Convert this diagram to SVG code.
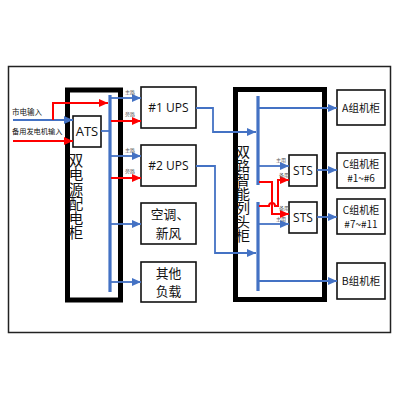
<svg xmlns="http://www.w3.org/2000/svg" width="400" height="400" viewBox="0 0 400 400">
<style>
.box{fill:#fff;stroke:#111;stroke-width:1.6}
.panel{fill:#fff;stroke:#000;stroke-width:5}
.t{font-family:"Open Sans","Noto Sans CJK SC",sans-serif;fill:#111;text-anchor:middle}
.zh{font-family:"Noto Sans CJK SC",sans-serif;fill:#111;text-anchor:middle}
.zl{font-family:"Noto Sans CJK SC",sans-serif;fill:#111;text-anchor:start}
.vt{font-family:"Noto Sans CJK SC",sans-serif;fill:#111;text-anchor:start;writing-mode:vertical-rl;text-orientation:upright}
.sm{font-family:"Noto Sans CJK SC",sans-serif;fill:#555;font-size:5px;text-anchor:middle}
.b{fill:none;stroke:#4472C4;stroke-width:1.8}
.r{fill:none;stroke:#FF0000;stroke-width:2}
.bus{stroke:#4472C4;stroke-width:3.2}
</style>
<defs>
<marker id="ab" markerUnits="userSpaceOnUse" markerWidth="9" markerHeight="8" refX="9" refY="4" orient="auto"><path d="M0,0 L9,4 L0,8 z" fill="#4472C4"/></marker>
<marker id="ar" markerUnits="userSpaceOnUse" markerWidth="9" markerHeight="8" refX="9" refY="4" orient="auto"><path d="M0,0 L9,4 L0,8 z" fill="#FF0000"/></marker>
</defs>
<rect x="8.5" y="66.5" width="382" height="266" fill="#fff" stroke="#222" stroke-width="1.5"/>
<g id="panel1">
<rect class="panel" x="67.5" y="90" width="53" height="210"/>
<text class="vt" x="76" y="153" font-size="14.5">双电源配电柜</text>
</g>
<g id="panel2">
<rect class="panel" x="235.5" y="89.5" width="89" height="210"/>
<text class="vt" x="243" y="145" font-size="14">双路智能列头柜</text>
</g>
<g id="inputs">
<text class="zl" x="12" y="115" font-size="7.5">市电输入</text>
<text class="zl" x="12" y="134" font-size="7.2">备用发电机输入</text>
</g>
<g id="ats">
<rect class="box" x="73" y="116" width="28" height="31"/>
<text class="t" x="87" y="136" font-size="13">ATS</text>
</g>
<g id="ups1"><rect class="box" x="141" y="87" width="55" height="41"/><text class="t" x="168.5" y="112" font-size="12">#1 UPS</text></g>
<g id="ups2"><rect class="box" x="141" y="145" width="55" height="41"/><text class="t" x="168.5" y="170" font-size="12">#2 UPS</text></g>
<g id="ac"><rect class="box" x="141" y="203" width="55" height="41"/><text class="zh" font-size="12.8"><tspan x="170" y="219">空调、</tspan><tspan x="168.5" y="237.5">新风</tspan></text></g>
<g id="other"><rect class="box" x="141" y="262" width="55" height="40"/><text class="zh" font-size="12.8"><tspan x="168.5" y="277.5">其他</tspan><tspan x="168.5" y="296">负载</tspan></text></g>
<g id="sts1"><rect class="box" x="289" y="155" width="28" height="31"/><text class="t" x="303" y="175" font-size="12">STS</text></g>
<g id="sts2"><rect class="box" x="289" y="202" width="28" height="31"/><text class="t" x="303" y="222" font-size="12">STS</text></g>
<g id="cabA"><rect class="box" x="337" y="90" width="48" height="35"/><text class="zh" x="361" y="111.5" font-size="10.5">A组机柜</text></g>
<g id="cabC1"><rect class="box" x="337" y="153" width="48" height="35"/><text class="zh" font-size="10"><tspan x="361" y="168">C组机柜</tspan><tspan x="361" y="182">#1~#6</tspan></text></g>
<g id="cabC2"><rect class="box" x="337" y="199" width="48" height="35"/><text class="zh" font-size="10"><tspan x="361" y="214">C组机柜</tspan><tspan x="361" y="228">#7~#11</tspan></text></g>
<g id="cabB"><rect class="box" x="337" y="263" width="48" height="36"/><text class="zh" x="361" y="285" font-size="10.5">B组机柜</text></g>
<g id="connectors">
<line class="bus" x1="110" y1="95" x2="110" y2="292"/>
<line class="bus" x1="258" y1="96" x2="258" y2="185"/>
<line class="bus" x1="258" y1="202" x2="258" y2="291"/>
<path class="b" d="M13,120 H73" marker-end="url(#ab)"/>
<path class="r" d="M53,120 V103 H108" marker-end="url(#ar)"/>
<path class="r" d="M13,141 H73" marker-end="url(#ar)"/>
<path class="b" d="M101,131 H109"/>
<path class="b" d="M111,98 H141" marker-end="url(#ab)"/>
<path class="r" d="M111,121 H141" marker-end="url(#ar)"/>
<path class="b" d="M111,156 H141" marker-end="url(#ab)"/>
<path class="r" d="M111,178 H141" marker-end="url(#ar)"/>
<path class="b" d="M111,224 H141" marker-end="url(#ab)"/>
<path class="b" d="M111,282 H141" marker-end="url(#ab)"/>
<path class="b" d="M196,108 H213 V132 H256" marker-end="url(#ab)"/>
<path class="b" d="M196,166 H215 V253 H256" marker-end="url(#ab)"/>
<path class="b" d="M259,108 H337" marker-end="url(#ab)"/>
<path class="b" d="M259,166 H289" marker-end="url(#ab)"/>
<path class="b" d="M259,224 H289" marker-end="url(#ab)"/>
<path class="b" d="M259,281 H337" marker-end="url(#ab)"/>
<path class="b" d="M317,170 H337" marker-end="url(#ab)"/>
<path class="b" d="M317,217 H337" marker-end="url(#ab)"/>
<path class="r" d="M259,182 H272 V214 H289" marker-end="url(#ar)"/>
<path class="r" d="M259,206 H269 A3,3 0 0 1 275,206 H278 V180 H289" marker-end="url(#ar)"/>
<text class="sm" x="130" y="94">主路</text>
<text class="sm" x="130" y="116">旁路</text>
<text class="sm" x="130" y="152">主路</text>
<text class="sm" x="130" y="173">旁路</text>
<text class="sm" x="281" y="162">主用</text>
<text class="sm" x="284" y="177">备用</text>
<text class="sm" x="284" y="210">备用</text>
<text class="sm" x="281" y="221">主用</text>
</g>
</svg>
